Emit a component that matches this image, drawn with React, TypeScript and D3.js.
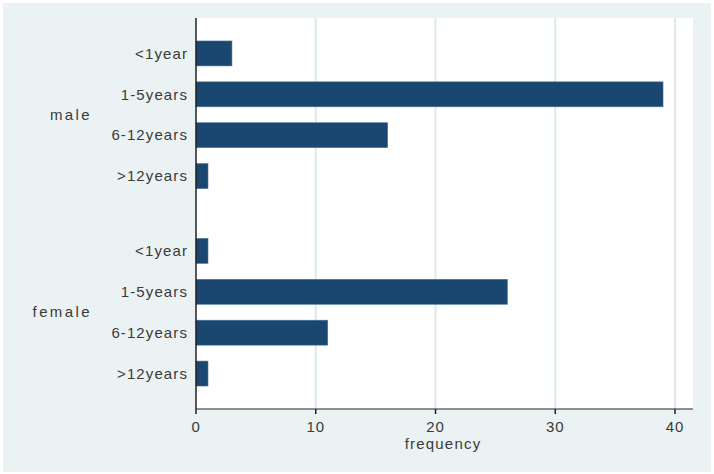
import React, { useEffect, useRef } from "react";
import * as d3 from "d3";

const groups = ["male", "female"];
const categories = ["<1year", "1-5years", "6-12years", ">12years"];
const maleValues = [3, 39, 16, 1];
const femaleValues = [1, 26, 11, 1];
const xTicks = [0, 10, 20, 30, 40];

const App = () => {
  const ref = useRef<SVGSVGElement | null>(null);

  useEffect(() => {
    const width = 714;
    const height = 474;
    const left = 196;
    const right = 693;
    const top = 18;
    const bottom = 409;
    const font = "'Liberation Sans', Arial, sans-serif";
    const textColor = "#3a3a3a";

    const svg = d3.select(ref.current);
    svg.selectAll("*").remove();

    // outer background
    svg
      .append("rect")
      .attr("x", 3)
      .attr("y", 3)
      .attr("width", width - 6)
      .attr("height", height - 5)
      .attr("fill", "#eaf2f3");

    // plot area
    svg
      .append("rect")
      .attr("x", left)
      .attr("y", top)
      .attr("width", right - left)
      .attr("height", bottom - top)
      .attr("fill", "white");

    const x = d3.scaleLinear().domain([0, 40]).range([left, 675]);

    const outer = d3
      .scaleBand()
      .domain(groups)
      .range([top, bottom])
      .paddingInner(0.172)
      .paddingOuter(0.076);

    const inner = d3
      .scaleBand()
      .domain(categories)
      .range([0, outer.bandwidth()])
      .paddingInner(0.39)
      .paddingOuter(0.195);

    const data = [
      ...categories.map((c, i) => ({ g: "male", c, v: maleValues[i] })),
      ...categories.map((c, i) => ({ g: "female", c, v: femaleValues[i] })),
    ];

    // grid lines
    svg
      .append("g")
      .selectAll()
      .data(xTicks.filter((t) => t > 0))
      .join("line")
      .attr("x1", (d) => x(d))
      .attr("x2", (d) => x(d))
      .attr("y1", top)
      .attr("y2", bottom)
      .attr("stroke", "#dde9ee")
      .attr("stroke-width", 2);

    // bars
    svg
      .append("g")
      .selectAll()
      .data(data)
      .join("rect")
      .attr("x", x(0))
      .attr("y", (d) => outer(d.g)! + inner(d.c)!)
      .attr("width", (d) => x(d.v) - x(0))
      .attr("height", inner.bandwidth())
      .attr("fill", "#1a476f")
      .attr("stroke", "#4a7396")
      .attr("stroke-width", 0.6);

    // category labels
    svg
      .append("g")
      .attr("text-anchor", "end")
      .attr("font-family", font)
      .attr("font-size", 15)
      .attr("letter-spacing", 1.1)
      .attr("fill", textColor)
      .selectAll()
      .data(data)
      .join("text")
      .attr("x", 188)
      .attr("y", (d) => outer(d.g)! + inner(d.c)! + inner.bandwidth() / 2)
      .attr("dy", "0.35em")
      .text((d) => d.c);

    // group labels
    svg
      .append("g")
      .attr("text-anchor", "end")
      .attr("font-family", font)
      .attr("font-size", 15)
      .attr("letter-spacing", 2.4)
      .attr("fill", textColor)
      .selectAll()
      .data(groups)
      .join("text")
      .attr("x", 92)
      .attr("y", (d) => outer(d)! + outer.bandwidth() / 2)
      .attr("dy", "0.35em")
      .text((d) => d);

    // axes lines
    svg
      .append("line")
      .attr("x1", left)
      .attr("x2", left)
      .attr("y1", top)
      .attr("y2", bottom)
      .attr("stroke", "#222")
      .attr("stroke-width", 1.5);

    const xAxis = svg.append("g").attr("transform", `translate(0,${bottom})`);
    xAxis
      .append("line")
      .attr("x1", left)
      .attr("x2", right)
      .attr("stroke", "#222")
      .attr("stroke-width", 1.2);
    xAxis
      .selectAll("line.tick")
      .data(xTicks)
      .join("line")
      .attr("class", "tick")
      .attr("x1", (d) => x(d))
      .attr("x2", (d) => x(d))
      .attr("y1", 0)
      .attr("y2", 5)
      .attr("stroke", "#222")
      .attr("stroke-width", 1.5);
    xAxis
      .selectAll("text")
      .data(xTicks)
      .join("text")
      .attr("x", (d) => x(d))
      .attr("y", 18)
      .attr("dy", "0.35em")
      .attr("text-anchor", "middle")
      .attr("font-family", font)
      .attr("font-size", 15)
      .attr("letter-spacing", 0.8)
      .attr("fill", textColor)
      .text((d) => d);

    svg
      .append("text")
      .attr("x", 443)
      .attr("y", 444)
      .attr("dy", "0.35em")
      .attr("text-anchor", "middle")
      .attr("font-family", font)
      .attr("font-size", 15)
      .attr("letter-spacing", 1.2)
      .attr("fill", textColor)
      .text("frequency");
  }, []);

  return (
    <svg
      ref={ref}
      width={714}
      height={474}
      style={{ position: "absolute", left: 0, top: 0, background: "white" }}
    />
  );
};

export default App;
